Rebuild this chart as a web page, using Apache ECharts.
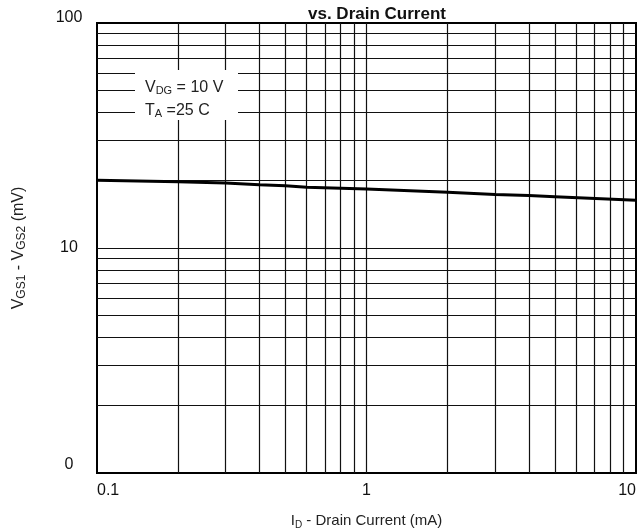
<!DOCTYPE html>
<html>
<head>
<meta charset="utf-8">
<script src="https://cdn.jsdelivr.net/npm/echarts@6/dist/echarts.min.js"></script>
<style>
  html, body { margin: 0; padding: 0; background: #fff; }
  #chart { width: 644px; height: 531px; }
</style>
</head>
<body>
<div id="chart"></div>
<script>
// drain current (mA) and offset voltage (mV)
const drainCurrent = [0.1, 0.2, 0.3, 0.4, 0.5, 0.6, 1, 2, 3, 4, 5, 10];
const offsetVoltage = [20.0, 19.7, 19.45, 19.1, 18.9, 18.6, 18.3, 17.7, 17.3, 17.1, 16.9, 16.3];

// log grid lines
const xGrid = [0.2, 0.3, 0.4, 0.5, 0.6, 0.7, 0.8, 0.9, 1, 2, 3, 4, 5, 6, 7, 8, 9];
const yGrid = [2, 3, 4, 5, 6, 7, 8, 9, 10, 20, 30, 40, 50, 60, 70, 80, 90];

const font = 'Liberation Sans, Arial, sans-serif';
const chart = echarts.init(document.getElementById('chart'));

const gridLines = xGrid.map(v => ({ xAxis: v }))
  .concat(yGrid.map(v => ({ yAxis: v })));

const option = {
  animation: false,
  grid: {
    left: 97, right: 8, top: 23, bottom: 58,
    outerBoundsMode: 'none', containLabel: false,
    show: true, borderColor: '#000', borderWidth: 2
  },
  xAxis: {
    type: 'log', logBase: 10, min: 0.1, max: 10,
    name: '{n|I}{s|D}{n| - Drain Current (mA)}',
    nameLocation: 'middle', nameGap: 39,
    nameTextStyle: {
      rich: {
        n: { fontFamily: font, fontSize: 15, color: '#222' },
        s: { fontFamily: font, fontSize: 10, color: '#222', padding: [8, 0, 0, 0] }
      }
    },
    axisLine: { lineStyle: { color: '#000', width: 2 } },
    axisTick: { show: false },
    splitLine: { show: false },
    axisLabel: {
      fontFamily: font, fontSize: 16, color: '#111', margin: 10,
      alignMinLabel: 'left', alignMaxLabel: 'right',
      formatter: v => String(v)
    }
  },
  yAxis: {
    type: 'log', logBase: 10, min: 1, max: 100,
    name: '{n|V}{s|GS1}{n| - V}{s|GS2}{n| (mV)}',
    nameLocation: 'middle', nameGap: 69, nameRotate: 90,
    nameTextStyle: {
      rich: {
        n: { fontFamily: font, fontSize: 16, color: '#222' },
        s: { fontFamily: font, fontSize: 12, color: '#222', padding: [6, 0, 0, 0] }
      }
    },
    axisLine: { lineStyle: { color: '#000', width: 2 } },
    axisTick: { show: false },
    splitLine: { show: false },
    axisLabel: {
      fontFamily: font, fontSize: 16, color: '#111', margin: 28, align: 'center',
      formatter: v => (v === 1 ? '{lo|0}' : v === 100 ? '{hi|100}' : String(v)),
      rich: {
        lo: { fontFamily: font, fontSize: 16, color: '#111', padding: [0, 0, 16, 0] },
        hi: { fontFamily: font, fontSize: 16, color: '#111', padding: [0, 0, 10, 0] }
      }
    }
  },
  series: [
    {
      type: 'line', data: [], z: 1, silent: true,
      markLine: {
        silent: true, symbol: 'none', label: { show: false },
        lineStyle: { color: '#111', width: 1.2, type: 'solid' },
        data: gridLines
      }
    },
    {
      type: 'line', z: 5, showSymbol: false, symbol: 'none',
      lineStyle: { color: '#000', width: 3 },
      data: drainCurrent.map((x, i) => [x, offsetVoltage[i]])
    }
  ],
  graphic: [
    {
      type: 'text', z: 100, left: 378 - 70, top: 6,
      style: { text: 'vs. Drain Current', font: 'bold 17px ' + font, fill: '#111' }
    },
    {
      type: 'rect', z: 100, shape: { x: 135, y: 70, width: 103, height: 50 },
      style: { fill: '#fff' }
    },
    {
      type: 'text', z: 101, x: 145, y: 76,
      style: {
        text: '{n|V}{s|DG}{n| = 10 V}\n{n|T}{s|A}{n| =25 C}',
        rich: {
          n: { fontFamily: font, fontSize: 16, fill: '#222', lineHeight: 23 },
          s: { fontFamily: font, fontSize: 11, fill: '#222', lineHeight: 23, padding: [7, 0, 0, 0] }
        }
      }
    }
  ]
};

chart.setOption(option);
</script>
</body>
</html>
